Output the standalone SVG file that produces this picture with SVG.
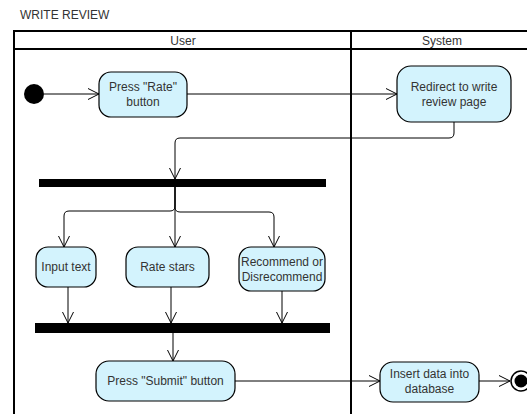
<svg xmlns="http://www.w3.org/2000/svg" width="527" height="414" viewBox="0 0 527 414">
  <defs>
    <marker id="open-arrow" markerWidth="13" markerHeight="13" refX="11" refY="6" orient="auto" markerUnits="userSpaceOnUse">
      <path d="M0,0.5 L11,6 L0,11.5" fill="none" stroke="#000" stroke-width="1"/>
    </marker>
  </defs>
  <style>
    text { font-family: "Liberation Sans", Arial, sans-serif; font-size: 12px; fill: #333; text-anchor: middle; }
    .title { text-anchor: start; }
    .lane { fill: none; stroke: #000; stroke-width: 2; }
    .action { fill: #d3f3fd; stroke: #000; stroke-width: 1.2; }
    .bar { fill: #000; }
    .flow { fill: none; stroke: #000; stroke-width: 1; marker-end: url(#open-arrow); }
  </style>

  <rect width="527" height="414" fill="#fff"/>

  <text class="title" x="20" y="19">WRITE REVIEW</text>

  <!-- swimlane pool -->
  <g id="pool">
    <path class="lane" d="M14,420 V31 H540 M14,49 H540 M351,31 V420"/>
    <text x="183" y="45">User</text>
    <text x="442" y="45">System</text>
  </g>

  <!-- connectors -->
  <g id="connectors">
    <path class="flow" d="M44,94 H99"/>
    <path class="flow" d="M187,94 H397"/>
    <path class="flow" d="M454,122 V133 Q454,138 449,138 H180 Q175,138 175,143 V179"/>
    <path class="flow" d="M175,187 V206 Q175,211 170,211 H69 Q64,211 64,216 V247"/>
    <path class="flow" d="M175,187 V247"/>
    <path class="flow" d="M175,187 V207 Q175,212 180,212 H269 Q274,212 274,217 V247"/>
    <path class="flow" d="M68,287 V323"/>
    <path class="flow" d="M171,287 V323"/>
    <path class="flow" d="M282,291 V323"/>
    <path class="flow" d="M173,333 V361"/>
    <path class="flow" d="M235,381 H380"/>
    <path class="flow" d="M479,381 H510" stroke-width="2"/>
  </g>

  <g id="start">
    <circle cx="34" cy="94" r="10" fill="#000"/>
  </g>

  <g id="press-rate">
    <rect class="action" x="99" y="72" width="88" height="45" rx="12"/>
    <text x="143" y="91">Press "Rate"</text>
    <text x="143" y="106">button</text>
  </g>

  <g id="redirect">
    <rect class="action" x="397" y="66" width="114" height="56" rx="14"/>
    <text x="454" y="91">Redirect to write</text>
    <text x="454" y="106">review page</text>
  </g>

  <g id="fork">
    <rect class="bar" x="39" y="179" width="287" height="8"/>
  </g>

  <g id="input-text">
    <rect class="action" x="36" y="247" width="60" height="40" rx="12"/>
    <text x="66" y="271">Input text</text>
  </g>

  <g id="rate-stars">
    <rect class="action" x="126" y="247" width="83" height="40" rx="12"/>
    <text x="167.5" y="271">Rate stars</text>
  </g>

  <g id="recommend">
    <rect class="action" x="239" y="247" width="86" height="44" rx="12"/>
    <text x="282" y="266">Recommend or</text>
    <text x="282" y="281">Disrecommend</text>
  </g>

  <g id="join">
    <rect class="bar" x="35" y="323" width="295" height="10"/>
  </g>

  <g id="press-submit">
    <rect class="action" x="96" y="361" width="139" height="40" rx="13"/>
    <text x="165.5" y="385">Press "Submit" button</text>
  </g>

  <g id="insert-data">
    <rect class="action" x="380" y="362" width="99" height="40" rx="13"/>
    <text x="429.5" y="378">Insert data into</text>
    <text x="429.5" y="393">database</text>
  </g>

  <g id="end">
    <circle cx="521" cy="381" r="10" fill="#fff" stroke="#000" stroke-width="1.5"/>
    <circle cx="521" cy="381" r="6.5" fill="#000"/>
  </g>
</svg>
